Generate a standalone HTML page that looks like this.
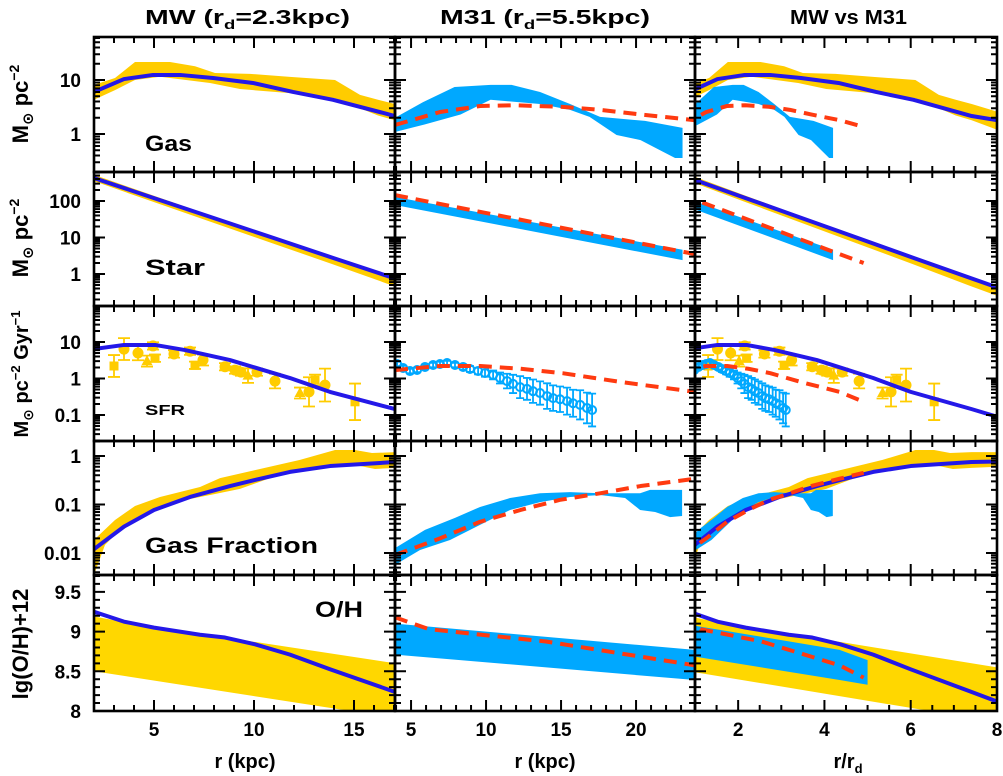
<!DOCTYPE html>
<html><head><meta charset="utf-8"><title>MW vs M31 radial profiles</title>
<style>
html,body{margin:0;padding:0;background:#fff;}
svg{display:block;font-family:"Liberation Sans","DejaVu Sans",sans-serif;}
.t{font-weight:bold;fill:#000;}
</style></head>
<body>
<svg id="fig" width="1003" height="776" viewBox="0 0 1003 776" xmlns="http://www.w3.org/2000/svg">
<rect x="0" y="0" width="1003" height="776" fill="#fff"/>
<g>
<text class="t" x="145" y="24" font-size="20" textLength="205" lengthAdjust="spacingAndGlyphs">MW (r<tspan font-size="13" dy="5">d</tspan><tspan dy="-5">=2.3kpc)</tspan></text>
<text class="t" x="440" y="24" font-size="20" textLength="210" lengthAdjust="spacingAndGlyphs">M31 (r<tspan font-size="13" dy="5">d</tspan><tspan dy="-5">=5.5kpc)</tspan></text>
<text class="t" x="790" y="24" font-size="20" textLength="117" lengthAdjust="spacingAndGlyphs">MW vs M31</text>
</g>
<g>
<text class="t" transform="translate(28,104) rotate(-90)" text-anchor="middle" font-size="22">M<tspan font-size="15" dy="5">⊙</tspan><tspan dy="-5"> pc</tspan><tspan font-size="14" dy="-9">−2</tspan></text>
<text class="t" transform="translate(28,238) rotate(-90)" text-anchor="middle" font-size="22">M<tspan font-size="15" dy="5">⊙</tspan><tspan dy="-5"> pc</tspan><tspan font-size="14" dy="-9">−2</tspan></text>
<text class="t" transform="translate(28,374) rotate(-90)" text-anchor="middle" font-size="20">M<tspan font-size="14" dy="5">⊙</tspan><tspan dy="-5"> pc</tspan><tspan font-size="13" dy="-8">−2</tspan><tspan dy="8"> Gyr</tspan><tspan font-size="13" dy="-8">−1</tspan></text>
<text class="t" transform="translate(28,644) rotate(-90)" text-anchor="middle" font-size="22">lg(O/H)+12</text>
</g>
<g>
<text class="t" x="245" y="768" text-anchor="middle" font-size="20">r (kpc)</text>
<text class="t" x="545" y="768" text-anchor="middle" font-size="20">r (kpc)</text>
<text class="t" x="848" y="768" text-anchor="middle" font-size="20">r/r<tspan font-size="13" dy="5">d</tspan></text>
</g>
</svg>
<script>
// ---------- data ----------
const mwGasR = [2,3.5,4.95,6.3,7.95,9.95,11.95,13.95,17.05,18.4];
const mwGasModel = [6.0,10.4,12.4,12.4,10.9,8.8,6.0,4.3,2.15,1.8];
const mwGasUpR = [2,3.05,4.05,5.8,7.05,8.05,9.8,11.8,14.05,15.3,16.2,17.05,18.4];
const mwGasUp = [8.1,10.9,21.5,21.5,18,13.5,13,11.4,10,5.3,4.3,3.6,2.6];
const mwGasLoR = [2,3.05,4.05,5.3,7.8,9.3,11.8,14.05,16.2,17.05,18.4];
const mwGasLo = [4.3,6.5,10,11.5,8.8,6.8,5.7,4.6,2.2,1.8,1.2];

const mwStarR = [2,5,8,11,14,17,18.4];
const mwStarModel = [427,120,34,9.6,2.7,0.77,0.43];
const mwStarObs = [427,114,30.6,8.2,2.2,0.57,0.31];

const mwSfrR = [2,3.5,5.05,6.55,8.8,11.8,13.8,17.05,18.4];
const mwSfrModel = [6.4,8.3,8.3,6.0,3.2,1.03,0.43,0.145,0.09];
const mwCircR = [3.5,4.2,4.95,6.0,6.8,7.45,8.55,9.05,9.35,10.15,11.05,12.75,13.55];
const mwCircV = [6.4,5,7.8,4.7,5.6,3.2,2.1,1.7,1.5,1.5,0.85,0.43,0.66];
const mwCircErr = [0.3,0.2,0.1,0.1,0.1,0.15,0.1,0.1,0.1,0.1,0.2,0.4,0.45];
const mwSqR = [3.0,5.05,7.05,13.05,15.05];
const mwSqV = [2.2,3.6,2.3,0.9,0.23];
const mwSqErr = [0.3,0.1,0.1,0.15,0.5];
const mwTriR = [4.65,9.7,12.3];
const mwTriV = [3,1.2,0.4];
const mwTriErr = [0.15,0.2,0.15];

const mwFgR = [2,3.5,5,6.8,8.8,10.05,11.8,13.8,17.05,18.4];
const mwFgModel = [0.012,0.035,0.077,0.143,0.24,0.32,0.47,0.62,0.75,0.77];
const mwFgUpR = [2,3.05,4.05,5.3,7.3,8.3,10.05,12.3,14.05,15.05,15.9,17.05,18.4];
const mwFgUp = [0.0186,0.048,0.093,0.143,0.23,0.35,0.51,0.83,1.33,1.33,1.15,1.2,1.2];
const mwFgLoR = [2,2.55,3.55,4.8,6.55,8.05,9.3,10.8,12.3,14.05,15.3,16.05,17.05,18.4];
const mwFgLo = [0.0035,0.0147,0.038,0.067,0.124,0.165,0.21,0.35,0.51,0.65,0.62,0.54,0.57,0.6];

const mwOhR = [2,3.5,5,7.3,8.55,10.05,11.8,13.8,17.05,18.4];
const mwOhModel = [9.25,9.125,9.05,8.96,8.925,8.84,8.71,8.525,8.24,8.12];
const mwOhUpR = [2,3.5,18.4];
const mwOhUp = [9.19,9.12,8.55];
const mwOhLoR = [2,18.4];
const mwOhLo = [8.5,7.86];

const m31GasUpR = [3.93,5.8,7.9,10.3,11.7,13.6,15.6,17.6,20.6,23.1];
const m31GasUp = [2.0,3.9,7.4,8.1,8.1,6.0,3.6,2.07,1.75,1.3];
const m31GasLoR = [3.93,5.9,8.3,10.3,13.6,15.6,16.9,18.7,20.3,21.6,22.6,23.1];
const m31GasLo = [1.09,1.5,2.3,4.3,3.6,2.8,2.07,0.96,0.77,0.5,0.36,0.36];
const m31GasModelR = [3.93,6.93,9.6,11.9,14.9,17.6,20.3,23.93,27];
const m31GasModel = [1.47,2.55,3.3,3.4,3.2,2.8,2.3,1.8,1.35];

const m31StarObsR = [3.93,23.1];
const m31StarUp = [129,4.6];
const m31StarLo = [78,2.4];
const m31StarModelR = [3.93,8,13,18,23.93,27];
const m31StarModel = [145,68,26.9,10.6,3.5,2.0];

const m31SfrR = [4.07,4.47,4.93,5.4,5.93,6.47,6.93,7.4,7.93,8.47,8.93,9.47,9.93,10.47,10.93,11.4,11.8,12.27,12.73,13.13,13.6,14.07,14.47,14.93,15.4,15.8,16.27,16.73,17.07];
const m31SfrV = [2.5,1.94,1.6,1.71,2.07,2.34,2.5,2.66,2.34,2.07,1.82,1.6,1.41,1.25,1.03,0.85,0.71,0.58,0.52,0.45,0.40,0.33,0.29,0.27,0.24,0.21,0.19,0.156,0.137];
const m31SfrErr = [0.06,0.06,0.06,0.06,0.06,0.06,0.06,0.06,0.06,0.07,0.08,0.09,0.1,0.12,0.15,0.2,0.25,0.3,0.3,0.32,0.32,0.35,0.35,0.35,0.37,0.37,0.4,0.42,0.45];
const m31SfrModelR = [3.93,6.93,9.6,12.3,15.1,19.0,23.93,27];
const m31SfrModel = [1.7,2.2,2.2,1.85,1.4,0.8,0.43,0.23];

const m31FgUpR = [3.93,5.93,7.93,9.6,11.6,13.6,15.6,17.6,20.27,20.93,23.07];
const m31FgUp = [0.0126,0.03,0.053,0.089,0.136,0.17,0.18,0.17,0.17,0.2,0.2];
const m31FgLoR = [3.93,5.6,7.6,9.6,11.6,13.6,15.6,17.6,19.27,20.27,21.27,22.27,23.07];
const m31FgLo = [0.0057,0.0115,0.0185,0.038,0.077,0.112,0.143,0.157,0.136,0.077,0.07,0.055,0.058];
const m31FgModelR = [3.93,6.93,9.6,12.3,14.9,17.6,20.3,23.93,27];
const m31FgModel = [0.0091,0.02,0.044,0.077,0.124,0.17,0.24,0.34,0.45];

const m31OhR = [3.93,23.93,27.5];
const m31OhUp = [9.10,8.77,8.64];
const m31OhLo = [8.71,8.39,8.33];
const m31OhModelR = [3.93,6.2,14,23.93,27];
const m31OhModel = [9.18,9.03,8.875,8.575,8.42];

const mwRd = 2.3, m31Rd = 5.5;

const yTickLabels = [["10","1"],["100","10","1"],["10","1","0.1"],["1","0.1","0.01"],["9.5","9","8.5","8"]];
const xTickLabels = [["5","10","15"],["5","10","15","20"],["2","4","6","8"]];
const panelLabels = ["Gas","Star","SFR","Gas Fraction","O/H"];

// ---------- layout ----------
const colX=[[94,395],[395,695],[695,997]];
const rowY=[[37,172],[172,306],[306,441],[441,575],[575,711]];
const xDom=[[2,17.05],[3.93,23.93],[1,8]];
const yDom=[[-0.704,1.796],[-0.877,2.795],[-1.712,1.986],[-2.454,0.309],[8.0,9.7125]];
const yLog=[true,true,true,true,false];
const BLUE="#2418e8", YEL="#ffcc00", YEL2="#ffd700", CYAN="#00a8ff", RED="#ff3a10";
const NS="http://www.w3.org/2000/svg";
const svg=document.getElementById('fig');

function sx(c,v){return colX[c][0]+(v-xDom[c][0])/(xDom[c][1]-xDom[c][0])*(colX[c][1]-colX[c][0]);}
function sy(r,v){const t=yLog[r]?Math.log10(v):v;return rowY[r][1]-(t-yDom[r][0])/(yDom[r][1]-yDom[r][0])*(rowY[r][1]-rowY[r][0]);}
function el(tag,parent){const e=document.createElementNS(NS,tag);parent.appendChild(e);return e;}
function scaleR(c,rs,rd){return c===2?rs.map(r=>r/rd):rs;}
function pts(c,r,xs,ys){return xs.map((x,i)=>sx(c,x).toFixed(2)+','+sy(r,ys[i]).toFixed(2)).join(' ');}

const defs=el('defs',svg);
for(let r=0;r<5;r++)for(let c=0;c<3;c++){
  const cp=el('clipPath',defs);cp.setAttribute('id','clip'+r+c);
  const rc=el('rect',cp);rc.setAttribute('x',colX[c][0]);rc.setAttribute('y',rowY[r][0]);
  rc.setAttribute('width',colX[c][1]-colX[c][0]);rc.setAttribute('height',rowY[r][1]-rowY[r][0]);
}

function band(g,c,r,upR,up,loR,lo,rd,color,name){
  const p=el('polygon',g);
  
  
  const a=pts(c,r,scaleR(c,upR,rd),up);
  const lr=scaleR(c,loR,rd).slice().reverse(), lv=lo.slice().reverse();
  p.setAttribute('points',a+' '+pts(c,r,lr,lv));
  p.setAttribute('fill',color);
}
function line(g,c,r,xs,ys,rd,color,w,dash,name){
  const p=el('polyline',g);
  
  
  p.setAttribute('points',pts(c,r,scaleR(c,xs,rd),ys));
  p.setAttribute('fill','none');p.setAttribute('stroke',color);p.setAttribute('stroke-width',w);
  p.setAttribute('stroke-linejoin','round');
  if(dash)p.setAttribute('stroke-dasharray',dash);
}
function errbar(g,c,r,x,v,e,color,cap){
  const X=sx(c,x),Y1=sy(r,v*Math.pow(10,e)),Y2=sy(r,v/Math.pow(10,e));
  const l=el('path',g);
  
  
  l.setAttribute('d',`M${X},${Y1}V${Y2}M${X-cap},${Y1}h${2*cap}M${X-cap},${Y2}h${2*cap}`);
  l.setAttribute('stroke',color);l.setAttribute('stroke-width',1.8);l.setAttribute('fill','none');
}
function points(g,c,r,xs,vs,es,rd,shape,color,name){
  xs.forEach((x0,i)=>{
    const x=c===2?x0/rd:x0;
    errbar(g,c,r,x,vs[i],es[i],color,shape==='open'?4:6);
    const X=sx(c,x),Y=sy(r,vs[i]);let m;
    if(shape==='circle'||shape==='open'){m=el('circle',g);m.setAttribute('cx',X);m.setAttribute('cy',Y);m.setAttribute('r',shape==='open'?4:5.5);}
    else if(shape==='square'){m=el('rect',g);m.setAttribute('x',X-4.5);m.setAttribute('y',Y-4.5);m.setAttribute('width',9);m.setAttribute('height',9);}
    else{m=el('polygon',g);m.setAttribute('points',`${X},${Y-6} ${X-5.5},${Y+4} ${X+5.5},${Y+4}`);}
    
    
    if(shape==='open'){m.setAttribute('fill','none');m.setAttribute('stroke',color);m.setAttribute('stroke-width',2);}
    else m.setAttribute('fill',color);
  });
}

const rowNames=['gas','star','sfr','gas-fraction','oh'];
const colNames=['mw','m31','mw-vs-m31'];
for(let r=0;r<5;r++)for(let c=0;c<3;c++){
  const pg=el('g',svg);
  
  
  const g=el('g',pg);g.setAttribute('clip-path','url(#clip'+r+c+')');
  
  
  const showMW=(c!==1), showM31=(c!==0);
  if(r===0){
    if(showMW)band(g,c,r,mwGasUpR,mwGasUp,mwGasLoR,mwGasLo,mwRd,YEL,'mw-gas-obs-band');
    if(showM31)band(g,c,r,m31GasUpR,m31GasUp,m31GasLoR,m31GasLo,m31Rd,CYAN,'m31-gas-obs-band');
    if(showMW)line(g,c,r,mwGasR,mwGasModel,mwRd,BLUE,4,null,'mw-gas-model-line');
    if(showM31)line(g,c,r,m31GasModelR,m31GasModel,m31Rd,RED,4,'13,8','m31-gas-model-line');
  }else if(r===1){
    if(showMW)line(g,c,r,mwStarR,mwStarObs,mwRd,YEL,6,null,'mw-star-obs-band');
    if(showM31)band(g,c,r,m31StarObsR,m31StarUp,m31StarObsR,m31StarLo,m31Rd,CYAN,'m31-star-obs-band');
    if(showMW)line(g,c,r,mwStarR,mwStarModel,mwRd,BLUE,4,null,'mw-star-model-line');
    if(showM31)line(g,c,r,m31StarModelR,m31StarModel,m31Rd,RED,4,'13,8','m31-star-model-line');
  }else if(r===2){
    if(showMW){
      points(g,c,r,mwCircR,mwCircV,mwCircErr,mwRd,'circle',YEL,'mw-sfr-circle');
      points(g,c,r,mwSqR,mwSqV,mwSqErr,mwRd,'square',YEL,'mw-sfr-square');
      points(g,c,r,mwTriR,mwTriV,mwTriErr,mwRd,'triangle',YEL,'mw-sfr-triangle');
    }
    if(showM31)points(g,c,r,m31SfrR,m31SfrV,m31SfrErr,m31Rd,'open',CYAN,'m31-sfr-point');
    if(showMW)line(g,c,r,mwSfrR,mwSfrModel,mwRd,BLUE,4,null,'mw-sfr-model-line');
    if(showM31)line(g,c,r,m31SfrModelR,m31SfrModel,m31Rd,RED,4,'13,8','m31-sfr-model-line');
  }else if(r===3){
    if(showMW)band(g,c,r,mwFgUpR,mwFgUp,mwFgLoR,mwFgLo,mwRd,YEL,'mw-gas-fraction-band');
    if(showM31)band(g,c,r,m31FgUpR,m31FgUp,m31FgLoR,m31FgLo,m31Rd,CYAN,'m31-gas-fraction-band');
    if(showMW)line(g,c,r,mwFgR,mwFgModel,mwRd,BLUE,4,null,'mw-gas-fraction-model-line');
    if(showM31)line(g,c,r,m31FgModelR,m31FgModel,m31Rd,RED,4,'13,8','m31-gas-fraction-model-line');
  }else{
    if(showMW)band(g,c,r,mwOhUpR,mwOhUp,mwOhLoR,mwOhLo,mwRd,YEL2,'mw-oh-band');
    if(showM31)band(g,c,r,m31OhR,m31OhUp,m31OhR,m31OhLo,m31Rd,CYAN,'m31-oh-band');
    if(showMW)line(g,c,r,mwOhR,mwOhModel,mwRd,BLUE,4,null,'mw-oh-model-line');
    if(showM31)line(g,c,r,m31OhModelR,m31OhModel,m31Rd,RED,4,'13,8','m31-oh-model-line');
  }
  const tk=el('path',pg);
  
  
  let d='';
  const [x0,x1]=colX[c],[y0,y1]=rowY[r];
  const step=c===2?0.5:1, majStep=c===2?2:5;
  for(let v=Math.ceil(xDom[c][0]/step)*step;v<=xDom[c][1]+1e-6;v+=step){
    const X=sx(c,v);const maj=Math.abs(v/majStep-Math.round(v/majStep))<1e-6;const L=maj?11:6;
    d+=`M${X},${y1}v${-L}M${X},${y0}v${L}`;
  }
  if(yLog[r]){
    for(let n=Math.floor(yDom[r][0]);n<=Math.ceil(yDom[r][1]);n++)for(let k=1;k<10;k++){
      const lv=n+Math.log10(k);if(lv<yDom[r][0]||lv>yDom[r][1])continue;
      const Y=sy(r,Math.pow(10,lv));const L=k===1?11:6;
      d+=`M${x0},${Y}h${L}M${x1},${Y}h${-L}`;
    }
  }else{
    for(let i=0;i<=17;i++){const v=8+i*0.1;const Y=sy(r,v);const L=(i%5===0)?11:6;d+=`M${x0},${Y}h${L}M${x1},${Y}h${-L}`;}
  }
  tk.setAttribute('d',d);tk.setAttribute('stroke','#000');tk.setAttribute('stroke-width',2);tk.setAttribute('fill','none');
  const fr=el('rect',pg);
  
  
  fr.setAttribute('x',x0);fr.setAttribute('y',y0);fr.setAttribute('width',x1-x0);fr.setAttribute('height',y1-y0);
  fr.setAttribute('fill','none');fr.setAttribute('stroke','#000');fr.setAttribute('stroke-width',2.6);
}

yTickLabels.forEach((labs,r)=>{
  labs.forEach(s=>{
    const t=el('text',svg);
    
    
    t.setAttribute('class','t');t.setAttribute('x',81);t.setAttribute('y',sy(r,parseFloat(s))+7);
    t.setAttribute('text-anchor','end');t.setAttribute('font-size',19);t.textContent=s;
  });
});
xTickLabels.forEach((labs,c)=>{
  labs.forEach(s=>{
    const t=el('text',svg);
    
    
    t.setAttribute('class','t');t.setAttribute('x',sx(c,parseFloat(s)));t.setAttribute('y',736);
    t.setAttribute('text-anchor','middle');t.setAttribute('font-size',19);t.textContent=s;
  });
});
const plPos=[[145,151,22,47],[145,275,22,60],[145,415,15,40],[145,553,22,173],[315,617,22,48]];
panelLabels.forEach((s,i)=>{
  const t=el('text',svg);
  
  
  t.setAttribute('class','t');t.setAttribute('x',plPos[i][0]);t.setAttribute('y',plPos[i][1]);
  t.setAttribute('font-size',plPos[i][2]);t.setAttribute('textLength',plPos[i][3]);
  t.setAttribute('lengthAdjust','spacingAndGlyphs');t.textContent=s;
});
</script>
</body></html>
